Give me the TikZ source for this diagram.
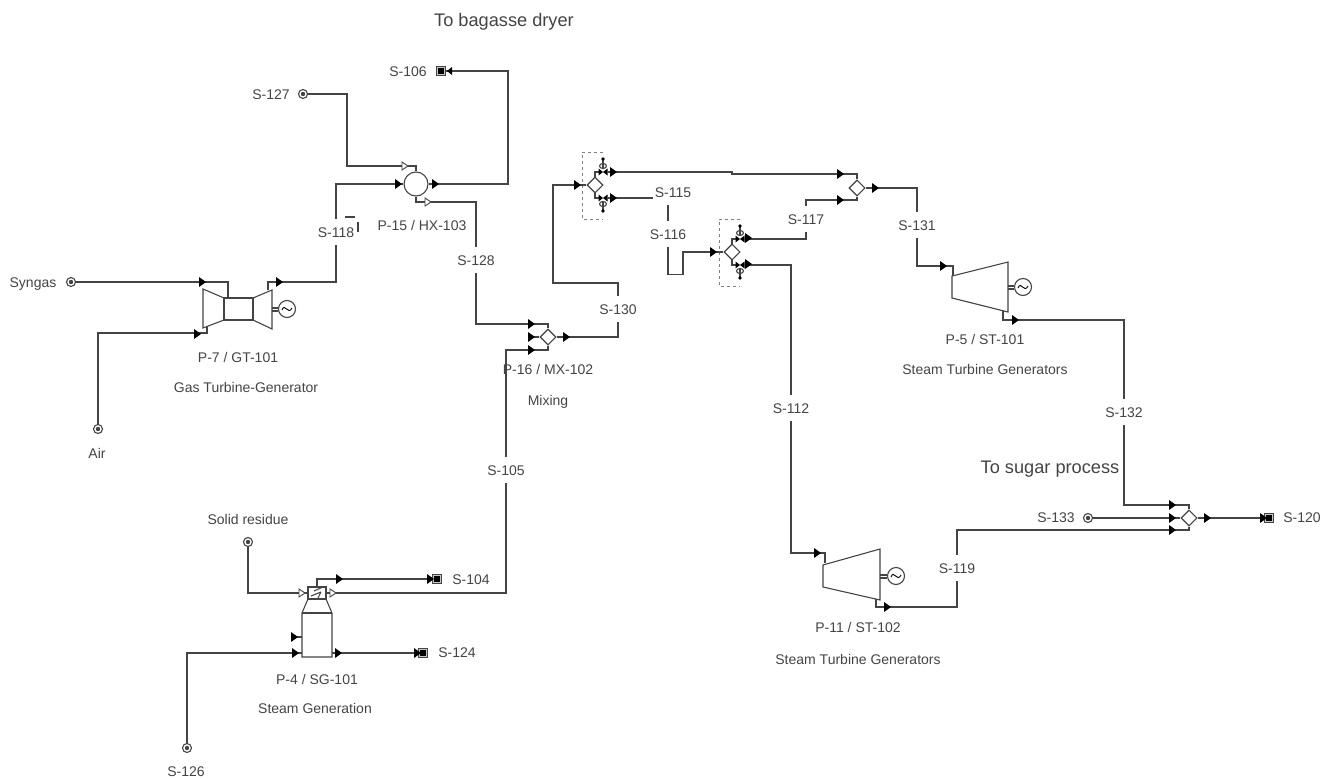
\documentclass[tikz,border=0pt]{standalone}
\usepackage{fontspec}
\setmainfont{Liberation Sans}
\usetikzlibrary{positioning,arrows.meta,shapes.geometric,calc}
\definecolor{inkc}{HTML}{444444}

\begin{document}
\begin{tikzpicture}[
  x=1pt,y=-1pt,
  every node/.style={font=\fontsize{14}{16}\selectfont,text=inkc},
  stream/.style={draw=inkc,line width=1.4pt},
  thin line/.style={draw=inkc,line width=1.1pt},
  tag/.style={inner sep=0pt,text height=10pt,text depth=0pt},
  lab/.style={inner xsep=2pt,inner ysep=0pt,text height=10pt,text depth=0pt,minimum height=26pt},
  big/.style={inner sep=0pt,font=\fontsize{18.2}{20}\selectfont},
  src/.style={circle,thin line,minimum size=9pt,inner sep=0pt,
    path picture={\fill[inkc] (path picture bounding box.center) circle (2.2pt);}},
  snk/.style={rectangle,thin line,fill=gray!45,minimum size=9pt,inner sep=0pt,
    path picture={\fill[black] (path picture bounding box.center) ++(-3,-3) rectangle ++(6,6);}},
  mix/.style={diamond,thin line,fill=white,minimum size=16pt,inner sep=0pt},
  gen/.style={circle,thin line,minimum size=17pt,inner sep=0pt},
  bowtie/.pic={\fill[black] (-4.5,-3.5) -- (4.5,3.5) -- (4.5,-3.5) -- (-4.5,3.5) -- cycle;},
  splitgroup/.pic={
    \draw[gray,dashed,line width=0.9pt] (8,-33) -- (-13,-33) -- (-13,34) -- (8,34);
    \draw[thin line] (0,-8) |- (5,-13) (0,8) |- (5,13);
    \draw[thin line] (8,-26) -- (8,-16) (8,16) -- (8,26);
    \draw[thin line] (8,-19) circle[x radius=3.5,y radius=2.5];
    \draw[thin line] (8,19) circle[x radius=3.5,y radius=2.5];
    \fill[black] (8,-26) circle (1.8) (8,26) circle (1.8);
    \pic at (8,-13) {bowtie};
    \pic at (8,13) {bowtie};
    \coordinate (-a) at (12,-13);
    \coordinate (-b) at (12,13);
  }
]
\useasboundingbox (0,0) rectangle (1336,779);

% equipment
\node[src] (s127) at (303,94) {};
\node[snk] (s106) at (441,71) {};
\node[src] (syngas) at (71,282) {};
\node[src] (air) at (98,429) {};
\node[src] (solid) at (248,542) {};
\node[src] (s126) at (187,748) {};
\node[snk] (s104) at (437,579) {};
\node[snk] (s124) at (423,653) {};
\node[src] (s133) at (1088,518) {};
\node[snk] (s120) at (1269,518) {};
\node[circle,thin line,minimum size=24pt,inner sep=0pt] (hx) at (416,184) {};
\node[mix] (mx) at (548,337) {};
\node[mix] (mt) at (857,188) {};
\node[mix] (mo) at (1189,518) {};
\node[mix] (sp1) at (595,185) {};
\node[mix] (sp2) at (732,252) {};
\pic (vg1) at (595,185) {splitgroup};
\pic (vg2) at (732,252) {splitgroup};

% gas turbine
\draw[thin line] (203,289) -- (224,298) -- (224,320) -- (203,328) -- cycle;
\draw[thin line] (224,298) rectangle (253,320);
\draw[thin line] (253,298) -- (272,290) -- (272,329) -- (253,320);
\node[gen] (g7) at (287,309) {};
\draw[thin line] (272,308) -- (g7.west |- 0,308) (272,311) -- (g7.west |- 0,311);
\draw[black,line width=0.9pt] (282,310) .. controls (285,302) and (288,316) .. (292,308);

% steam turbines
\draw[thin line] (952,276) -- (1008,262) -- (1008,312) -- (952,298) -- cycle;
\node[gen] (g5) at (1023,287) {};
\draw[thin line] (1008,286) -- (g5.west |- 0,286) (1008,289) -- (g5.west |- 0,289);
\draw[black,line width=0.9pt] (1018,288) .. controls (1021,280) and (1024,294) .. (1028,286);
\draw[thin line] (823,565) -- (880,549) -- (880,600) -- (823,587) -- cycle;
\node[gen] (g11) at (896,576) {};
\draw[thin line] (880,575) -- (g11.west |- 0,575) (880,578) -- (g11.west |- 0,578);
\draw[black,line width=0.9pt] (891,577) .. controls (894,569) and (897,583) .. (901,575);

% steam generator
\draw[thin line] (308,587) rectangle (326,599);
\draw[thin line] (308,599) -- (302,613) -- (302,657) -- (332,657) -- (332,613) -- (326,599);
\draw[thin line] (302,613) -- (332,613);
\draw[thin line] (314,591) -- (323,587) (311,596) -- (321,592) (318,598) -- (321,592);
\coordinate (sgtop) at (317,587);
\coordinate (sgin) at (308,593);
\coordinate (sgout) at (326,593);

% labels
\node[lab] (l118) at (336,232) {S-118};
\node[lab] (l128) at (476,260) {S-128};
\node[lab] (l130) at (618,309) {S-130};
\node[lab] (l105) at (506,470) {S-105};
\node[lab] (l131) at (917,225) {S-131};
\node[lab] (l132) at (1124,412) {S-132};
\node[lab] (l112) at (791,408) {S-112};
\node[lab] (l119) at (957,568) {S-119};
\node[lab] (l115) at (673,192) {S-115};
\node[lab] (l116) at (668,234) {S-116};
\node[lab] (l117) at (806,219) {S-117};

\node[tag] (t127) at (271,94) {S-127};
\node[tag] (t106) at (408,71) {S-106};
\node[tag] (tsyn) at (33,282) {Syngas};
\node[tag] (tair) at (97,453) {Air};
\node[tag] (tsol) at (248,519) {Solid residue};
\node[tag] (t126) at (186,771) {S-126};
\node[tag] (t104) at (471,579) {S-104};
\node[tag] (t124) at (457,652) {S-124};
\node[tag] (t133) at (1056,517) {S-133};
\node[tag] (t120) at (1302,517) {S-120};
\node[tag] (p15) at (422,225) {P-15 / HX-103};
\node[tag] (p7) at (238,357) {P-7 / GT-101};
\node[tag, below=20pt of p7, xshift=8pt] (p7n) {Gas Turbine-Generator};
\node[tag] (p16) at (548,369) {P-16 / MX-102};
\node[tag, below=21pt of p16] (p16n) {Mixing};
\node[tag] (p5) at (985,339) {P-5 / ST-101};
\node[tag, below=20pt of p5] (p5n) {Steam Turbine Generators};
\node[tag] (p11) at (858,627) {P-11 / ST-102};
\node[tag, below=22pt of p11] (p11n) {Steam Turbine Generators};
\node[tag] (p4) at (317,679) {P-4 / SG-101};
\node[tag, below=19pt of p4, xshift=-2pt] (p4n) {Steam Generation};
\node[big] (tdry) at (504,22) {To bagasse dryer};
\node[big] (tsug) at (1050,469) {To sugar process};

% streams
\draw[stream] (s127) -- (347,94) |- (416,166) -- (hx.north);
\draw[stream] (hx.east) -- (508,184) |- (s106);
\draw[stream] (syngas) -- (228,282) -- (228,298);
\draw[stream] (air) |- (207,333) -- (207,327);
\draw[stream] (268,290) |- (336,282) -- (l118.south);
\draw[stream] (l118.north) |- (hx.west);
\draw[stream] (hx.south) |- (476,202) -- (l128.north);
\draw[stream] (l128.south) |- (548,324) -- (mx.north);
\draw[stream] (530,337) -- (mx.west);
\draw[stream] (mx.south) |- (506,350) -- (l105.north);
\draw[stream] (l105.south) -- (506,593) -- (sgout);
\draw[stream] (mx.east) -| (l130.south);
\draw[stream] (l130.north) |- (553,283) |- (sp1.west);
\draw[stream] (vg1-a) -- (732,172) -- (732,174) -| (mt.north);
\draw[stream] (vg1-b) -- (l115.west |- vg1-b);
\draw[stream] (l115.south -| l116.north) -- (l116.north);
\draw[stream] (l116.south) -- ++(0,27) -- ++(15,0) |- (sp2.west);
\draw[stream] (vg2-a) -| (l117.south);
\draw[stream] (l117.north) |- (857,200) -- (mt.south);
\draw[stream] (vg2-b) -| (l112.north);
\draw[stream] (l112.south) |- (825,553) -- (825,563);
\draw[stream] (mt.east) -| (l131.north);
\draw[stream] (l131.south) |- (953,266) -- (953,276);
\draw[stream] (1003,311) |- (1124,320) -- (l132.north);
\draw[stream] (l132.south) |- (1189,505) -- (mo.north);
\draw[stream] (876,599) |- (957,607) -- (l119.south);
\draw[stream] (l119.north) |- (1189,530) -- (mo.south);
\draw[stream] (s133) -- (mo.west);
\draw[stream] (mo.east) -- (s120);
\draw[stream] (solid) |- (sgin);
\draw[stream] (s126) |- (302,653);
\draw[stream] (294,637) -- (302,637);
\draw[stream] (sgtop) |- (s104);
\draw[stream] (332,653) -- (s124);
\draw[thin line] (345,217) -- (355,217) (358,222) -- (358,232);

% flow marks
\foreach \x/\y in {398/184,435/184,202/282,279/282,197/334,531/324,531/337,531/350,566/337,
  577/185,613/172,613/198,840/174,840/200,875/188,713/252,748/238,748/264,943/266,1015/320,
  887/607,817/553,1172/505,1172/518,1172/530,1207/518,1263/518,339/579,430/579,295/653,
  294/637,338/653,417/653}
  \fill[black] (\x-3,\y-5) -- (\x+4,\y) -- (\x-3,\y+5) -- cycle;
\foreach \x/\y in {405/166,428/202,302/593,333/593}
  \draw[inkc,fill=white,line width=0.9pt] (\x-3,\y-4) -- (\x+3,\y) -- (\x-3,\y+4) -- cycle;
\fill[black] (447,71) -- (452,67) -- (452,75) -- cycle;
\end{tikzpicture}
\end{document}
